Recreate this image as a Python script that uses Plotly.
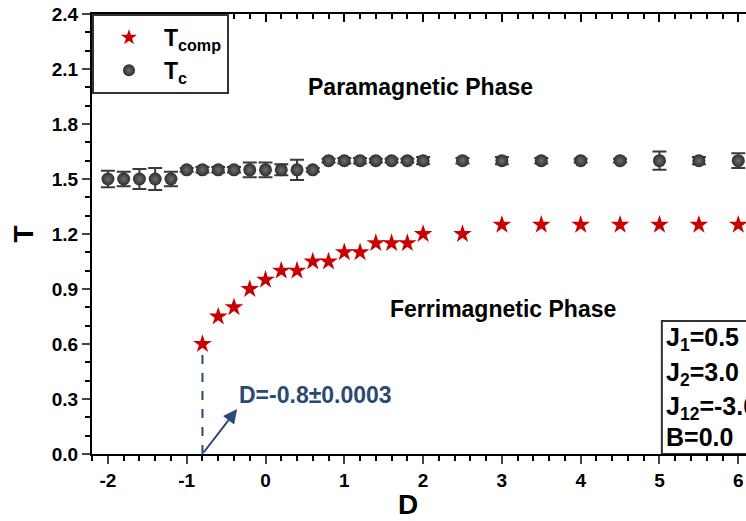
import plotly.graph_objects as go

# Phase boundary data: critical temperature T_c and compensation temperature T_comp vs. anisotropy D
D_c = [-2.0, -1.8, -1.6, -1.4, -1.2, -1.0, -0.8, -0.6, -0.4, -0.2, 0.0, 0.2, 0.4, 0.6,
       0.8, 1.0, 1.2, 1.4, 1.6, 1.8, 2.0, 2.5, 3.0, 3.5, 4.0, 4.5, 5.0, 5.5, 6.0]
T_c = [1.50, 1.50, 1.50, 1.50, 1.50, 1.55, 1.55, 1.55, 1.55, 1.55, 1.55, 1.55, 1.55, 1.55,
       1.60, 1.60, 1.60, 1.60, 1.60, 1.60, 1.60, 1.60, 1.60, 1.60, 1.60, 1.60, 1.60, 1.60, 1.60]
T_c_err = [0.045, 0.04, 0.055, 0.06, 0.04, 0.01, 0.015, 0.015, 0.015, 0.04, 0.04, 0.03, 0.055, 0.01,
           0.01, 0.015, 0.015, 0.01, 0.01, 0.01, 0.02, 0.015, 0.02, 0.015, 0.01, 0.01, 0.05, 0.02, 0.04]

D_comp = [-0.8, -0.6, -0.4, -0.2, 0.0, 0.2, 0.4, 0.6, 0.8, 1.0, 1.2, 1.4, 1.6, 1.8, 2.0,
          2.5, 3.0, 3.5, 4.0, 4.5, 5.0, 5.5, 6.0]
T_comp = [0.60, 0.75, 0.80, 0.90, 0.95, 1.00, 1.00, 1.05, 1.05, 1.10, 1.10, 1.15, 1.15, 1.15, 1.20,
          1.20, 1.25, 1.25, 1.25, 1.25, 1.25, 1.25, 1.25]

params = ["J<sub>1</sub>=0.5", "J<sub>2</sub>=3.0", "J<sub>12</sub>=-3.0", "B=0.0"]
param_y = [0.627, 0.436, 0.251, 0.093]

x_ticks = [-2, -1, 0, 1, 2, 3, 4, 5, 6]
x_ticktext = ["-2", "-1", "0", "1", "2", "3", "4", "5", "6"]
y_ticks = [0.0, 0.3, 0.6, 0.9, 1.2, 1.5, 1.8, 2.1, 2.4]
y_ticktext = ["0.0", "0.3", "0.6", "0.9", "1.2", "1.5", "1.8", "2.1", "2.4"]

FONT = "Arial, Liberation Sans, sans-serif"
RED = "#c80000"
GREY = "#3a3a3a"
NAVY = "#2b4a73"

fig = go.Figure()

# vertical dashed guide from the first compensation point down to the axis
fig.add_trace(go.Scatter(
    x=[D_comp[0], D_comp[0]], y=[0, T_comp[0]], mode="lines",
    line=dict(color=NAVY, width=2, dash="dash"), showlegend=False, hoverinfo="skip"))

fig.add_trace(go.Scatter(
    x=D_comp, y=T_comp, mode="markers", name="T<sub>comp</sub>",
    marker=dict(symbol="star", size=14, color=RED, line=dict(width=0))))

fig.add_trace(go.Scatter(
    x=D_c, y=T_c, mode="markers", name="T<sub>c</sub>",
    marker=dict(symbol="circle", size=13, color="#2e2e2e",
                gradient=dict(type="radial", color="#6e6e6e"),
                line=dict(width=0)),
    error_y=dict(type="data", array=T_c_err, visible=True, color=GREY, thickness=2, width=7)))

# invisible companion trace that carries the inward-ticked top axis
fig.add_trace(go.Scatter(
    x=D_c, y=T_c, xaxis="x2", mode="markers", marker=dict(opacity=0),
    showlegend=False, hoverinfo="skip"))

axis_common = dict(
    showline=True, linecolor="black", linewidth=2,
    showgrid=False, zeroline=False,
    tickfont=dict(family=FONT, size=19, color="black", weight="bold"),
)

fig.update_layout(
    width=746, height=521,
    margin=dict(l=92, r=0, t=14, b=67),
    paper_bgcolor="white", plot_bgcolor="white",
    xaxis=dict(
        range=[-2.202, 6.098], tickvals=x_ticks, ticktext=x_ticktext,
        ticks="outside", ticklen=8, tickwidth=2,
        minor=dict(dtick=0.2, ticks="outside", ticklen=5, tickwidth=1.5, tickcolor="black"),
        **axis_common),
    xaxis2=dict(
        overlaying="x", side="top", matches="x", showticklabels=False,
        showline=True, linecolor="black", linewidth=2, showgrid=False, zeroline=False,
        tickvals=x_ticks, ticks="inside", ticklen=8, tickwidth=2, tickcolor="black",
        minor=dict(dtick=0.2, ticks="inside", ticklen=5, tickwidth=1.5, tickcolor="black")),
    yaxis=dict(
        range=[0, 2.4], tickvals=y_ticks, ticktext=y_ticktext,
        ticks="outside", ticklen=8, tickwidth=2,
        minor=dict(dtick=0.1, ticks="outside", ticklen=5, tickwidth=1.5, tickcolor="black"),
        title=dict(text="T", font=dict(family=FONT, size=28, color="black", weight="bold"), standoff=10),
        **axis_common),
    legend=dict(
        x=0, y=1, xanchor="left", yanchor="top",
        bgcolor="white", bordercolor="#333333", borderwidth=2,
        font=dict(family=FONT, size=23, color="black", weight="bold"),
        itemsizing="constant", itemwidth=60, tracegroupgap=0),
    showlegend=True,
)

# horizontal axis title
fig.add_annotation(x=1.81, y=0, xref="x", yref="y", yshift=-50, text="D", showarrow=False,
                   font=dict(family=FONT, size=28, color="black", weight="bold"))

# phase labels
fig.add_annotation(x=1.97, y=2.0, text="Paramagnetic Phase", showarrow=False,
                   font=dict(family=FONT, size=23, color="black", weight="bold"))
fig.add_annotation(x=3.01, y=0.79, text="Ferrimagnetic Phase", showarrow=False,
                   font=dict(family=FONT, size=23, color="black", weight="bold"))

# arrow pointing from the transition point toward its label
fig.add_annotation(x=-0.36, y=0.245, ax=D_comp[0], ay=0, axref="x", ayref="y",
                   text="", showarrow=True, arrowhead=2, arrowsize=1.4, arrowwidth=2,
                   arrowcolor=NAVY)
fig.add_annotation(x=-0.36, y=0.322, text="D=-0.8±0.0003", showarrow=False,
                   xanchor="left", font=dict(family=FONT, size=23, color=NAVY, weight="bold"))

# parameter box
fig.add_shape(type="rect", xref="x", yref="y", x0=5.03, x1=6.6, y0=0, y1=0.726,
              line=dict(color="#333333", width=2), fillcolor="rgba(0,0,0,0)")
for label, yv in zip(params, param_y):
    fig.add_annotation(x=5.06, y=yv, text=label, showarrow=False, xanchor="left",
                       font=dict(family=FONT, size=25, color="black", weight="bold"))

fig.write_html("out.html")
